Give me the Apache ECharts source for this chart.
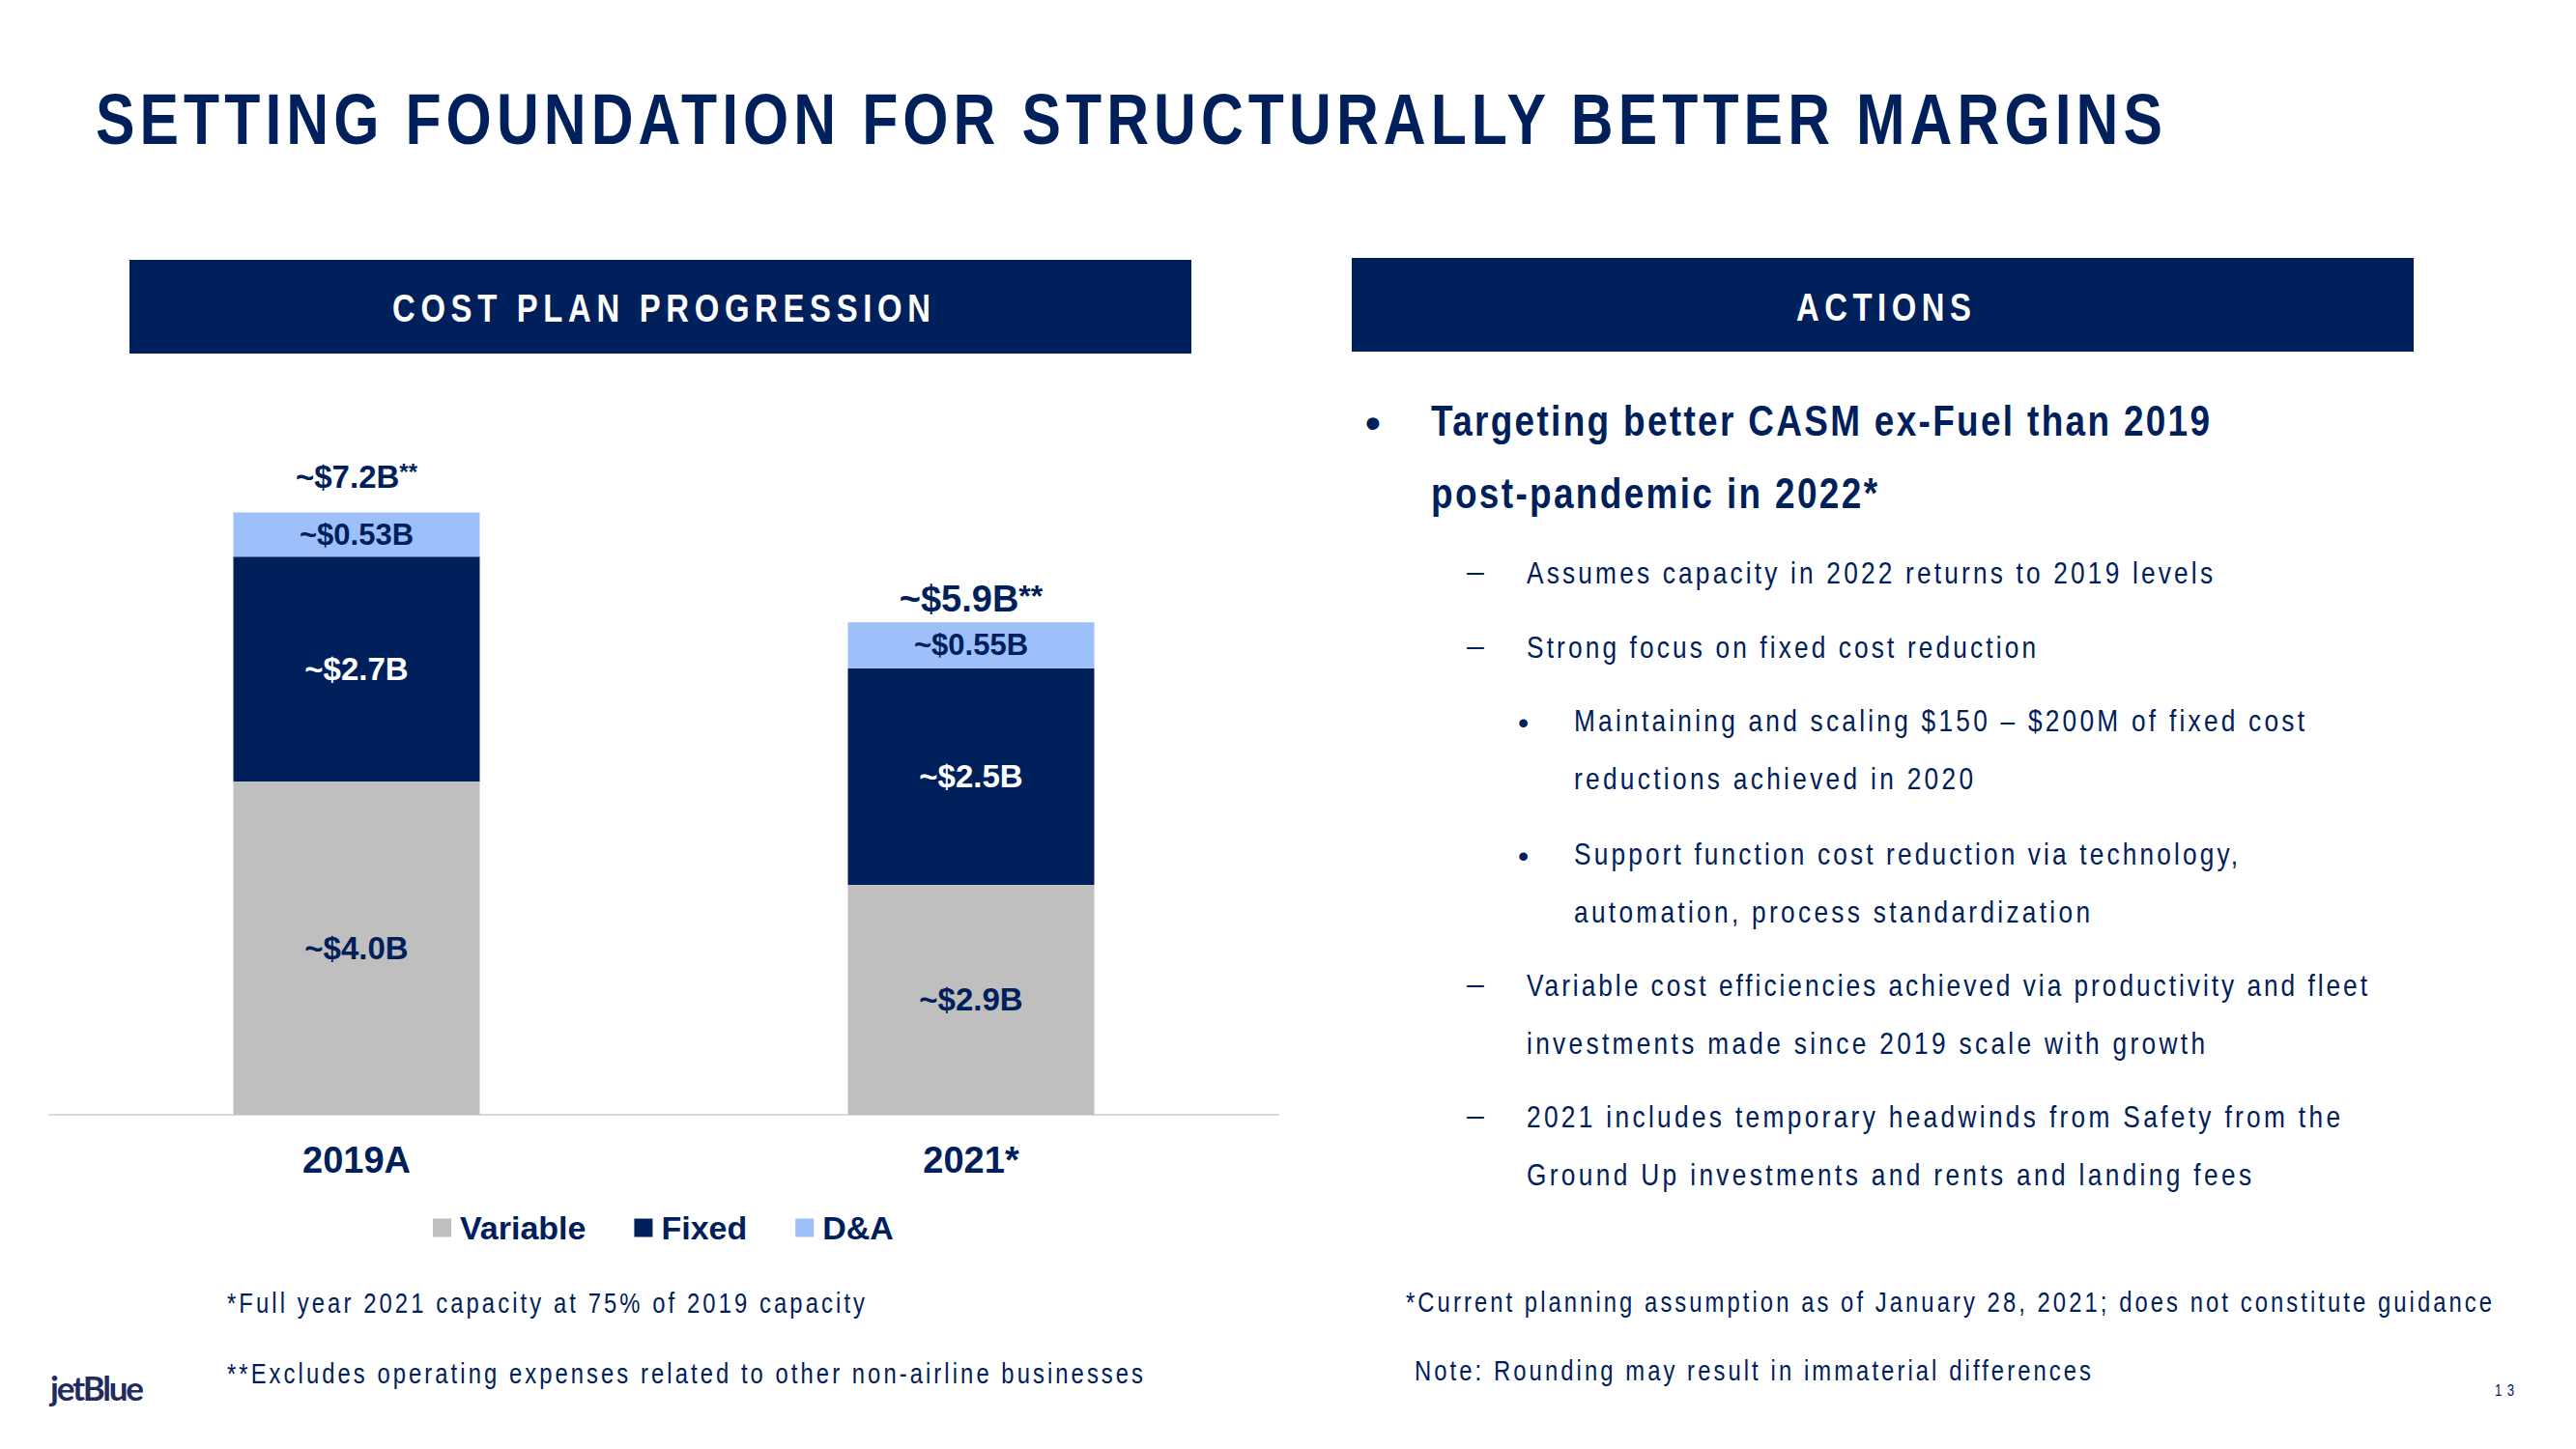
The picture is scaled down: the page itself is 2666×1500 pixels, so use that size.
<!DOCTYPE html>
<html><head><meta charset="utf-8">
<script src="https://cdn.jsdelivr.net/npm/echarts/dist/echarts.min.js"></script>
<style>
html,body{margin:0;padding:0;background:#fff;}
#page{position:relative;width:2666px;height:1500px;overflow:hidden;background:#fff;}
#chart{position:absolute;left:0;top:0;width:1400px;height:1500px;}
.t{position:absolute;white-space:nowrap;line-height:1;color:#00205B;font-family:"Liberation Sans",Arial,sans-serif;}
.box{position:absolute;background:#00205B;}
</style></head><body>
<div id="page">
  <div id="chart"></div>
  <div class="box" style="left:134px;top:269px;width:1099px;height:97px;"></div>
  <div class="box" style="left:1399px;top:267px;width:1099px;height:97px;"></div>
</div>
<script>
// ---- chart data ----
const categories = ['2019A', '2021*'];
const seriesNames = ['Variable', 'Fixed', 'D&A'];
const variableValues = [4.0, 2.76];
const fixedValues = [2.7, 2.6];
const daValues = [0.53, 0.55];
const variableLabels = ['~$4.0B', '~$2.9B'];
const fixedLabels = ['~$2.7B', '~$2.5B'];
const daLabels = ['~$0.53B', '~$0.55B'];
const totalLabels = ['~$7.2B', '~$5.9B'];
const totalNotes = ['**', '**'];

const NAVY = '#00205B', GREY = '#BFBFBF', LIGHT = '#9DBFFA';
const FONT = '"Liberation Sans", Arial, sans-serif';

const chart = echarts.init(document.getElementById('chart'), null, {renderer: 'svg'});
function segLabel(labels, color, size) {
  return {show: true, position: 'inside', color: color, fontSize: size, fontWeight: 'bold',
          fontFamily: FONT, formatter: p => labels[p.dataIndex]};
}
const totals = categories.map((c, i) => variableValues[i] + fixedValues[i] + daValues[i]);
const totalStyle = [{size: 33, note: 24, dist: 20}, {size: 38, note: 32, dist: 5}];
const totalData = totals.map((v, i) => ({
  value: v,
  label: {
    distance: totalStyle[i].dist,
    rich: {
      a: {fontSize: totalStyle[i].size, fontWeight: 'bold', color: NAVY, fontFamily: FONT, lineHeight: totalStyle[i].size},
      b: {fontSize: totalStyle[i].note, fontWeight: 'bold', color: NAVY, fontFamily: FONT, lineHeight: totalStyle[i].size, verticalAlign: 'top'}
    }
  }
}));

chart.setOption({
  animation: false,
  grid: {left: 51, width: 1272, top: 464, height: 690},
  xAxis: {
    type: 'category', data: categories,
    axisLine: {lineStyle: {color: '#D9D9D9', width: 2}},
    axisTick: {show: false},
    axisLabel: {color: NAVY, fontSize: 38, fontWeight: 'bold', fontFamily: FONT, margin: 28}
  },
  yAxis: {type: 'value', min: 0, max: 8, show: false, splitLine: {show: false}},
  legend: {
    data: seriesNames, left: 448, top: 1254, padding: 0, icon: 'rect',
    itemWidth: 19, itemHeight: 19, itemGap: 50,
    textStyle: {color: NAVY, fontSize: 34, fontWeight: 'bold', fontFamily: FONT, padding: [0, 0, 0, 4]}
  },
  series: [
    {name: seriesNames[0], type: 'bar', stack: 'cost', data: variableValues, barWidth: 255,
     itemStyle: {color: GREY}, label: segLabel(variableLabels, NAVY, 33)},
    {name: seriesNames[1], type: 'bar', stack: 'cost', data: fixedValues, barWidth: 255,
     itemStyle: {color: NAVY}, label: segLabel(fixedLabels, '#FFFFFF', 33)},
    {name: seriesNames[2], type: 'bar', stack: 'cost', data: daValues, barWidth: 255,
     itemStyle: {color: LIGHT}, label: segLabel(daLabels, NAVY, 31)},
    {name: 'Total', type: 'scatter', data: totalData, symbolSize: 1, silent: true, z: 10,
     itemStyle: {color: 'rgba(0,0,0,0)', opacity: 1},
     label: {show: true, position: 'top',
             formatter: p => '{a|' + totalLabels[p.dataIndex] + '}{b|' + totalNotes[p.dataIndex] + '}'}}
  ]
});

// ---- slide text ----
const page = document.getElementById('page');
const SX = 0.82; // narrow face emulation
function place(s) {
  const el = document.createElement('div');
  el.className = 't';
  el.textContent = s.s;
  el.style.fontSize = s.f + 'px';
  el.style.fontWeight = s.b ? 'bold' : 'normal';
  if (s.c) el.style.color = s.c;
  if (s.ff) el.style.fontFamily = s.ff;
  page.appendChild(el);
  const w0 = el.getBoundingClientRect().width;
  const n = Array.from(s.s).length;
  const sx = s.noScale ? 1 : SX;
  if (s.w && n > 1) {
    el.style.letterSpacing = ((s.w / sx - w0) / (n - 1)) + 'px';
  }
  el.style.transformOrigin = '0 0';
  el.style.transform = 'scaleX(' + sx + ')';
  const w = s.w || w0 * sx;
  el.style.left = (s.a === 'center' ? s.x - w / 2 : s.x) + 'px';
  el.style.top = (s.y - 0.49 * s.f) + 'px';
}
const texts = [
  {s: 'SETTING FOUNDATION FOR STRUCTURALLY BETTER MARGINS', x: 99, y: 123, f: 74, b: 1, w: 2139},
  {s: 'COST PLAN PROGRESSION', x: 684, y: 319, f: 40, b: 1, w: 557, a: 'center', c: '#FFFFFF'},
  {s: 'ACTIONS', x: 1949, y: 318, f: 40, b: 1, w: 181, a: 'center', c: '#FFFFFF'},
  {s: '*Full year 2021 capacity at 75% of 2019 capacity', x: 235, y: 1349, f: 29, w: 660},
  {s: '**Excludes operating expenses related to other non-airline businesses', x: 235, y: 1422, f: 29, w: 948},
  {s: '\u2022', x: 1413, y: 437, f: 45, b: 1, noScale: 1},
  {s: 'Targeting better CASM ex-Fuel than 2019', x: 1481, y: 435, f: 45, b: 1, w: 806},
  {s: 'post-pandemic in 2022*', x: 1481, y: 510, f: 45, b: 1, w: 462},
  {s: '\u2013', x: 1518, y: 591, f: 32, noScale: 1},
  {s: 'Assumes capacity in 2022 returns to 2019 levels', x: 1580, y: 593, f: 32, w: 710},
  {s: '\u2013', x: 1518, y: 668, f: 32, noScale: 1},
  {s: 'Strong focus on fixed cost reduction', x: 1580, y: 670, f: 32, w: 527},
  {s: '\u2022', x: 1571, y: 748, f: 32, noScale: 1},
  {s: 'Maintaining and scaling $150 \u2013 $200M of fixed cost', x: 1629, y: 746, f: 32, w: 756},
  {s: 'reductions achieved in 2020', x: 1629, y: 806, f: 32, w: 413},
  {s: '\u2022', x: 1571, y: 886, f: 32, noScale: 1},
  {s: 'Support function cost reduction via technology,', x: 1629, y: 884, f: 32, w: 687},
  {s: 'automation, process standardization', x: 1629, y: 944, f: 32, w: 534},
  {s: '\u2013', x: 1518, y: 1018, f: 32, noScale: 1},
  {s: 'Variable cost efficiencies achieved via productivity and fleet', x: 1580, y: 1020, f: 32, w: 870},
  {s: 'investments made since 2019 scale with growth', x: 1580, y: 1080, f: 32, w: 702},
  {s: '\u2013', x: 1518, y: 1154, f: 32, noScale: 1},
  {s: '2021 includes temporary headwinds from Safety from the', x: 1580, y: 1156, f: 32, w: 842},
  {s: 'Ground Up investments and rents and landing fees', x: 1580, y: 1216, f: 32, w: 750},
  {s: '*Current planning assumption as of January 28, 2021; does not constitute guidance', x: 1455, y: 1348, f: 29, w: 1124},
  {s: 'Note: Rounding may result in immaterial differences', x: 1464, y: 1419, f: 29, w: 700},
  {s: '13', x: 2592, y: 1440, f: 16, w: 20, a: 'center'},
  {s: 'jetBlue', x: 52, y: 1436, f: 35, b: 1, w: 97, c: '#232B5E', ff: 'Lato, "Noto Sans", sans-serif', noScale: 1}
];
texts.forEach(place);
</script>
</body></html>
